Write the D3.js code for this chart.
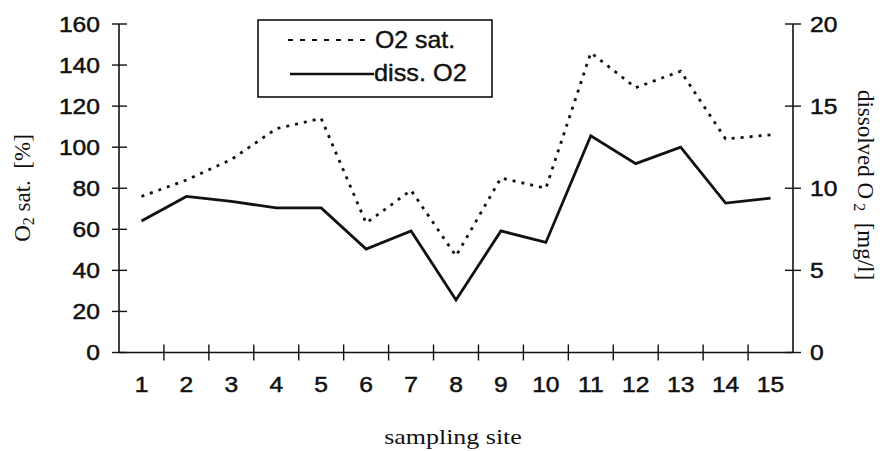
<!DOCTYPE html>
<html><head><meta charset="utf-8">
<script src="https://cdn.jsdelivr.net/npm/d3@7"></script>
<style>body{margin:0;background:#fff}</style>
</head><body><svg id="c" width="882" height="451"></svg>
<script>
const sites = ["1","2","3","4","5","6","7","8","9","10","11","12","13","14","15"];
const o2Sat = [76, 84, 94, 109, 114, 63, 79, 47, 85, 80, 146, 129, 137, 104, 106];
const dissO2 = [8.0, 9.5, 9.2, 8.8, 8.8, 6.3, 7.4, 3.2, 7.4, 6.7, 13.2, 11.5, 12.5, 9.1, 9.4];
const leftTicks = [0,20,40,60,80,100,120,140,160];
const rightTicks = [0,5,10,15,20];

const svg = d3.select("#c");
const L = 119, R = 793, T = 24, B = 352.5;
const x = d3.scaleBand().domain(sites).range([L, R]);
const yL = d3.scaleLinear().domain([0,160]).range([B, T]);
const yR = d3.scaleLinear().domain([0,20]).range([B, T]);
const sans = "Liberation Sans, Arial, sans-serif";
const serif = "Liberation Serif, Times New Roman, serif";
const ink = "#111";

function stext(px, py, str, opts) {
  const sx = opts.sx || 1.12;
  return svg.append("text")
    .attr("transform", `translate(${px},${py}) scale(${sx},1)`)
    .attr("text-anchor", opts.anchor || "start")
    .attr("dy", opts.dy || null)
    .attr("font-family", opts.family || sans)
    .attr("font-size", opts.size || 22)
    .attr("fill", ink)
    .attr("stroke", opts.stroke ? ink : null)
    .attr("stroke-width", opts.stroke || null)
    .text(str);
}

// axes lines
svg.append("line").attr("x1",L).attr("x2",L).attr("y1",T).attr("y2",B).attr("stroke",ink).attr("stroke-width",1.6);
svg.append("line").attr("x1",R).attr("x2",R).attr("y1",T).attr("y2",B).attr("stroke",ink).attr("stroke-width",1.6);
svg.append("line").attr("x1",L).attr("x2",R).attr("y1",B).attr("y2",B).attr("stroke",ink).attr("stroke-width",1.6);

leftTicks.forEach(v=>{
  svg.append("line").attr("x1",L-7).attr("x2",L+8).attr("y1",yL(v)).attr("y2",yL(v)).attr("stroke",ink).attr("stroke-width",1.4);
  stext(100, yL(v), v, {anchor:"end", dy:"0.36em", stroke:0.5});
});
rightTicks.forEach(v=>{
  svg.append("line").attr("x1",R-8).attr("x2",R+8).attr("y1",yR(v)).attr("y2",yR(v)).attr("stroke",ink).attr("stroke-width",1.4);
  stext(810, yR(v), v, {anchor:"start", dy:"0.36em", stroke:0.5});
});
sites.forEach((s,i)=>{
  if(i>0){
    const xx = x(s);
    svg.append("line").attr("x1",xx).attr("x2",xx).attr("y1",B-8).attr("y2",B+8).attr("stroke",ink).attr("stroke-width",1.4);
  }
  stext(x(s)+x.bandwidth()/2, 392, s, {anchor:"middle", stroke:0.5});
});

// lines
const cx = d => x(d)+x.bandwidth()/2;
svg.append("path").datum(o2Sat).attr("fill","none").attr("stroke",ink).attr("stroke-width",2.8)
  .attr("stroke-dasharray","3,6")
  .attr("d", d3.line().x((d,i)=>cx(sites[i])).y(d=>yL(d)));
svg.append("path").datum(dissO2).attr("fill","none").attr("stroke",ink).attr("stroke-width",2.8)
  .attr("d", d3.line().x((d,i)=>cx(sites[i])).y(d=>yR(d)));

// legend
svg.append("rect").attr("x",258).attr("y",20).attr("width",234).attr("height",77).attr("fill","#fff").attr("stroke",ink).attr("stroke-width",1.6);
svg.append("line").attr("x1",288).attr("x2",368).attr("y1",40).attr("y2",40).attr("stroke",ink).attr("stroke-width",2.2).attr("stroke-dasharray","5,7");
stext(375, 48, "O2 sat.", {size:23, sx:1.08, stroke:0.4});
svg.append("line").attr("x1",290).attr("x2",374).attr("y1",74).attr("y2",74).attr("stroke",ink).attr("stroke-width",2.4);
stext(374, 81, "diss. O2", {size:23, sx:1.1, stroke:0.4});

// axis titles
const lt = svg.append("text").attr("transform","translate(30,188) rotate(-90)").attr("text-anchor","middle")
  .attr("font-family",serif).attr("font-size",23).attr("fill",ink);
lt.append("tspan").text("O");
lt.append("tspan").attr("font-size",16).attr("dy",4).text("2");
lt.append("tspan").attr("dy",-4).text(" sat.\u00a0\u00a0[%]");

const rt = svg.append("text").attr("transform","translate(858,185) rotate(90)").attr("text-anchor","middle")
  .attr("font-family",serif).attr("font-size",23).attr("fill",ink);
rt.append("tspan").text("dissolved O");
rt.append("tspan").attr("font-size",16).attr("dy",4).text("\u00a02");
rt.append("tspan").attr("dy",-4).text("\u00a0\u00a0[mg/l]");

stext(453, 444, "sampling site", {anchor:"middle", family:serif, size:22, sx:1.18});
</script></body></html>
